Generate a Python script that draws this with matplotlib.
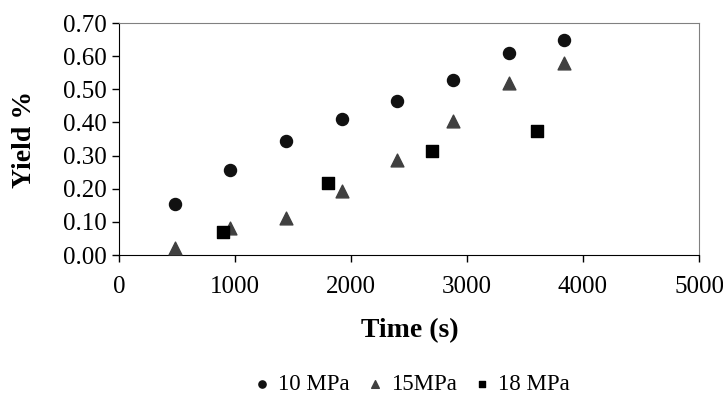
import matplotlib
matplotlib.use('Agg')
import matplotlib.pyplot as plt

plt.rcParams['font.family'] = ['Liberation Serif', 'DejaVu Serif']

# Datos
t_10 = [480, 960, 1440, 1920, 2400, 2880, 3360, 3840]
y_10 = [0.155, 0.257, 0.343, 0.411, 0.465, 0.527, 0.608, 0.650]
t_15 = [480, 960, 1440, 1920, 2400, 2880, 3360, 3840]
y_15 = [0.020, 0.080, 0.112, 0.192, 0.288, 0.405, 0.520, 0.578]
t_18 = [900, 1800, 2700, 3600]
y_18 = [0.070, 0.218, 0.315, 0.373]
labels = ['10 MPa', '15MPa', '18 MPa']

fig = plt.figure(figsize=(7.23, 3.98), dpi=100)
ax = fig.add_axes([119 / 723, 1 - 255 / 398, 580 / 723, 232 / 398])

ax.scatter(t_10, y_10, marker='o', s=75, c='#111111', label=labels[0], zorder=3)
ax.scatter(t_15, y_15, marker='^', s=85, c='#404040', label=labels[1], zorder=3)
ax.scatter(t_18, y_18, marker='s', s=70, c='#000000', label=labels[2], zorder=3)

ax.set_xlim(0, 5000)
ax.set_ylim(0, 0.70)
ax.set_xticks(range(0, 5001, 1000))
ax.set_yticks([i / 10 for i in range(8)])
ax.set_yticklabels(['%.2f' % (i / 10) for i in range(8)])
ax.tick_params(direction='out', length=5, width=1, labelsize=18, colors='black')
ax.tick_params(axis='x', pad=10)
ax.tick_params(axis='y', pad=4)

ax.spines['left'].set_color('black')
ax.spines['bottom'].set_color('black')
ax.spines['top'].set_color('#808080')
ax.spines['right'].set_color('#808080')

ax.set_xlabel('Time (s)', fontsize=20, fontweight='bold')
ax.set_ylabel('Yield %', fontsize=20, fontweight='bold')
ax.xaxis.set_label_coords((410 - 119) / 580, -(318 - 255) / 232)
ax.yaxis.set_label_coords(-(119 - 37) / 580, 0.5)

fig.legend(loc='center', bbox_to_anchor=(409 / 723, 1 - 384 / 398), ncol=3,
           frameon=False, fontsize=16.5, handletextpad=0.1, columnspacing=0.5,
           handlelength=1.2, markerscale=0.6, borderpad=0.1)

fig.savefig('out.png', dpi=100)
